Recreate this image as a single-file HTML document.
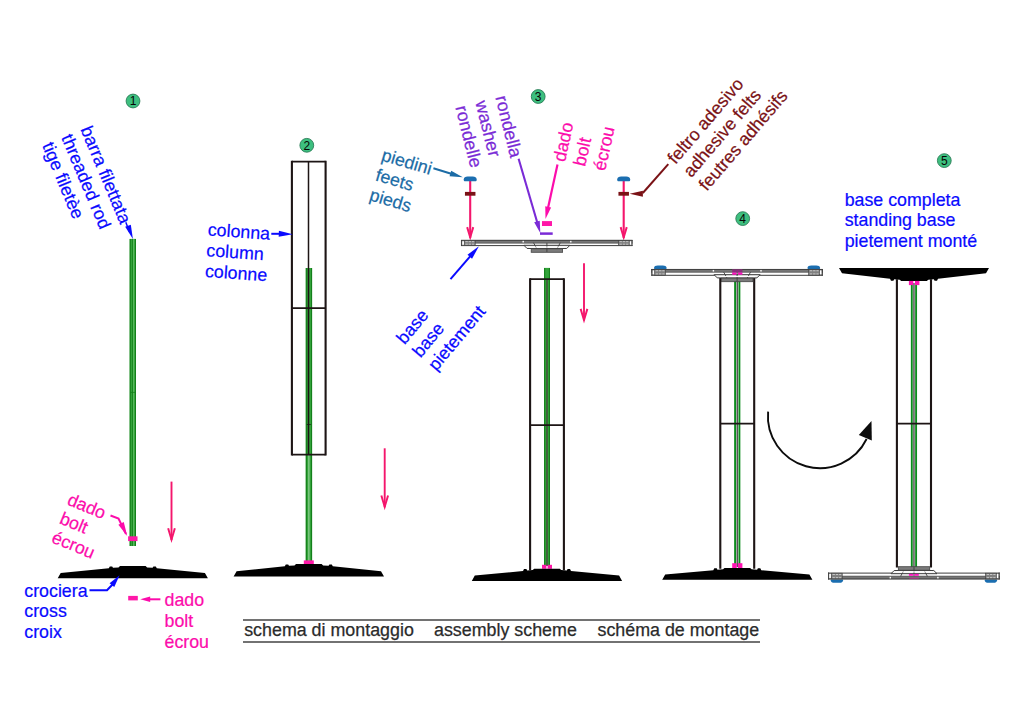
<!DOCTYPE html>
<html lang="it"><head><meta charset="utf-8"><title>schema di montaggio</title>
<style>html,body{margin:0;padding:0;background:#fff}svg{display:block}text{font-family:"Liberation Sans",Arial,sans-serif}</style>
</head><body>
<svg width="1024" height="724" viewBox="0 0 1024 724">
<rect width="1024" height="724" fill="#fff"/>
<circle cx="133" cy="101" r="6.9" fill="#3dbf7f" stroke="#2b7d58" stroke-width="0.9"/>
<text x="133" y="105.3" font-size="12" text-anchor="middle" fill="#050505">1</text>
<g transform="translate(80.3 129.3) rotate(67.3)" fill="#0a0aff" stroke="#0a0aff" stroke-width="0.22" font-size="17.8"><text x="0" y="0.0">barra filettata</text><text x="0" y="20.8">threaded rod</text><text x="0" y="41.6">tige filetèe</text></g>
<path d="M125.8 222.3L129.5 232" stroke="#0a0aff" stroke-width="1.5"/>
<path transform="translate(132.9 238.9) rotate(69.5)" d="M0 0L-14 -3L-14 3Z" fill="#0a0aff"/>
<rect x="129.65" y="238.9" width="6.3" height="307.1" fill="#33a33a"/>
<path d="M130.25 238.9V546M135.45 238.9V546" stroke="#14801b" stroke-width="1.1"/>
<path d="M132.50 238.9V546" stroke="#14801b" stroke-width="0.8"/>
<path d="M133.70 238.9V546" stroke="#62bd66" stroke-width="1"/>
<path d="M130.2 392.4h5.4" stroke="#14801b" stroke-width="0.8"/>
<rect x="128.10000000000002" y="536.3" width="9.4" height="4.8" fill="#ff18a8"/>
<path d="M171.5 481.6V540" fill="none" stroke="#f4166c" stroke-width="1.9"/>
<path d="M171.5 543L167.2 528.6L169.1 528.0L171.5 536.5L173.9 528.0L175.8 528.6Z" fill="#f4166c"/>
<path d="M57.7 578.2L60.7 572.9L108.8 568.3L109.8 566.4L112.2 566.4L113.0 567.8L118.5 567.4L120.0 566.1L145.6 566.1L147.1 567.4L152.6 567.8L153.4 566.4L155.8 566.4L156.8 568.3L204.9 572.9L207.9 578.2Z" fill="#000"/>
<g transform="translate(66.2 504.2) rotate(22.5)" fill="#fc0cab" stroke="#fc0cab" stroke-width="0.22" font-size="17.8"><text x="0" y="0.0">dado</text><text x="0" y="20.4">bolt</text><text x="0" y="40.8">écrou</text></g>
<path d="M110.5 515.5L118.5 518.5L126 534" fill="none" stroke="#fc0cab" stroke-width="2"/>
<path transform="translate(127.2 536) rotate(64)" d="M0 0L-14 -3L-14 3Z" fill="#fc0cab"/>
<g transform="translate(24.3 596.8) rotate(0)" fill="#0a0aff" stroke="#0a0aff" stroke-width="0.22" font-size="17.8"><text x="0" y="0.0">crociera</text><text x="0" y="20.6">cross</text><text x="0" y="41.2">croix</text></g>
<path d="M89.5 590.3H107L113 584" fill="none" stroke="#0a0aff" stroke-width="2"/>
<path transform="translate(119.6 575.3) rotate(-52)" d="M0 0L-12.5 -3L-12.5 3Z" fill="#0a0aff"/>
<rect x="128.2" y="595.9" width="9.6" height="4.5" fill="#ff18a8"/>
<path d="M160.4 599.3H149" stroke="#fc0cab" stroke-width="2"/>
<path transform="translate(140.2 599.3) rotate(180)" d="M0 0L-10 -2.8L-10 2.8Z" fill="#fc0cab"/>
<g transform="translate(164.5 606.2) rotate(0)" fill="#fc0cab" stroke="#fc0cab" stroke-width="0.22" font-size="17.8"><text x="0" y="0.0">dado</text><text x="0" y="20.8">bolt</text><text x="0" y="41.6">écrou</text></g>
<circle cx="306.8" cy="145.3" r="6.9" fill="#3dbf7f" stroke="#2b7d58" stroke-width="0.9"/>
<text x="306.8" y="149.60000000000002" font-size="12" text-anchor="middle" fill="#050505">2</text>
<rect x="305.75" y="268" width="6.3" height="187.0" fill="#33a33a"/>
<path d="M306.35 268V455M311.55 268V455" stroke="#14801b" stroke-width="1.1"/>
<rect x="305.75" y="455" width="6.3" height="106.0" fill="#33a33a"/>
<path d="M306.35 455V561M311.55 455V561" stroke="#14801b" stroke-width="1.1"/>
<path d="M308.9 455V561" stroke="#a5dba8" stroke-width="1"/>
<path d="M291.9 160.75V455.55M325.6 160.75V455.55" stroke="#1d1515" stroke-width="2.1" fill="none"/>
<path d="M291.9 308.2H325.6M291.9 161.6H325.6M291.9 454.7H325.6" stroke="#1d1515" stroke-width="1.7" fill="none"/>
<path d="M308.5 161.6V454.7" stroke="#1d1515" stroke-width="1.5"/>
<path d="M306.8 424.5h4" stroke="#1d1515" stroke-width="0.8"/>
<rect x="303.8" y="560.4" width="10" height="3.8" fill="#ff18a8"/>
<path d="M233.6 576.5L236.6 571.2L284.8 566.3L285.8 564.4L288.2 564.4L289.0 565.8L294.5 565.4L296.0 564.1L321.6 564.1L323.1 565.4L328.6 565.8L329.4 564.4L331.8 564.4L332.8 566.3L381.0 571.2L384.0 576.5Z" fill="#000"/>
<path d="M384.7 448.3V507.2" fill="none" stroke="#f4166c" stroke-width="1.9"/>
<path d="M384.7 510.2L380.4 495.8L382.3 495.2L384.7 503.7L387.1 495.2L389.0 495.8Z" fill="#f4166c"/>
<g transform="translate(207.5 235.5) rotate(3.9)" fill="#0a0aff" stroke="#0a0aff" stroke-width="0.22" font-size="17.8"><text x="0" y="0.0">colonna</text><text x="0" y="20.8">column</text><text x="0" y="41.6">colonne</text></g>
<path d="M271.3 233.8H280" stroke="#0a0aff" stroke-width="2"/>
<path transform="translate(292.8 234.2) rotate(2)" d="M0 0L-14 -3L-14 3Z" fill="#0a0aff"/>
<circle cx="538.2" cy="96.5" r="6.9" fill="#3dbf7f" stroke="#2b7d58" stroke-width="0.9"/>
<text x="538.2" y="100.8" font-size="12" text-anchor="middle" fill="#050505">3</text>
<g transform="translate(380.4 160.2) rotate(16.5)" fill="#1c6ca6" stroke="#1c6ca6" stroke-width="0.22" font-size="17.8"><text x="0" y="0.0">piedini</text><text x="0" y="20.8">feets</text><text x="0" y="41.6">pieds</text></g>
<path d="M433.4 168.3L452 174" stroke="#1c6ca6" stroke-width="2"/>
<path transform="translate(462.8 177.3) rotate(17)" d="M0 0L-13 -2.8L-13 2.8Z" fill="#1c6ca6"/>
<g transform="translate(495.2 97.3) rotate(76)" fill="#7a2bd6" stroke="#7a2bd6" stroke-width="0.22" font-size="17.8"><text x="0" y="0.0">rondella</text><text x="0" y="20.6">washer</text><text x="0" y="41.2">rondelle</text></g>
<g transform="translate(564.9 162.5) rotate(-77.5)" fill="#fc0cab" stroke="#fc0cab" stroke-width="0.22" font-size="17.8"><text x="0" y="0.0">dado</text><text x="0" y="20.6">bolt</text><text x="0" y="41.2">écrou</text></g>
<g transform="translate(675.6 164.9) rotate(-49.4)" fill="#7a1216" stroke="#7a1216" stroke-width="0.22" font-size="17.8"><text x="0" y="0.0">feltro adesivo</text><text x="0" y="20.6">adhesive felts</text><text x="0" y="41.2">feutres adhésifs</text></g>
<g transform="translate(404.6 345.2) rotate(-50)" fill="#0a0aff" stroke="#0a0aff" stroke-width="0.22" font-size="17.8"><text x="0" y="0.0">base</text><text x="0" y="20.6">base</text><text x="0" y="41.2">pietement</text></g>
<path d="M470.2 181V237.8" fill="none" stroke="#f4166c" stroke-width="2.1"/>
<path d="M470.2 240.8L466.2 227.4L468.1 226.8L470.2 234.3L472.3 226.8L474.2 227.4Z" fill="#f4166c"/>
<path d="M464.70 181.3Q463.70 181.3 463.70 179.42Q464.10 176.60 467.60 176.60H472.80Q476.30 176.60 476.70 179.42Q476.70 181.3 475.70 181.3Z" fill="#1b6eb0"/>
<rect x="464.95" y="191.9" width="10.5" height="3.8" fill="#7a1216"/>
<path d="M623.7 181V237.8" fill="none" stroke="#f4166c" stroke-width="2.1"/>
<path d="M623.7 240.8L619.7 227.4L621.6 226.8L623.7 234.3L625.8 226.8L627.7 227.4Z" fill="#f4166c"/>
<path d="M618.20 181.3Q617.20 181.3 617.20 179.42Q617.60 176.60 621.10 176.60H626.30Q629.80 176.60 630.20 179.42Q630.20 181.3 629.20 181.3Z" fill="#1b6eb0"/>
<rect x="618.45" y="191.9" width="10.5" height="3.8" fill="#7a1216"/>
<path d="M518.6 158.8L538 225" fill="none" stroke="#7a2bd6" stroke-width="2.1"/>
<path transform="translate(540.3 233) rotate(73.9)" d="M0 0L-12 -2.9L-12 2.9Z" fill="#7a2bd6"/>
<path d="M540 233.6H552.7" fill="none" stroke="#7a2bd6" stroke-width="2.5"/>
<rect x="542.0" y="221.1" width="10" height="4.9" fill="#ff18a8"/>
<path d="M557.5 164.5L548 208" stroke="#fc0cab" stroke-width="2.2"/>
<path transform="translate(545.5 219.1) rotate(102.4)" d="M0 0L-12.5 -3L-12.5 3Z" fill="#fc0cab"/>
<path d="M668.3 164.2L642.8 193" fill="none" stroke="#7a1216" stroke-width="2"/>
<path transform="translate(629.6 193.7) rotate(180)" d="M0 0L-13.3 -3L-13.3 3Z" fill="#7a1216"/>
<path d="M450.5 279.2L471 255.4" stroke="#0a0aff" stroke-width="2"/>
<path transform="translate(478.9 246.2) rotate(-49.3)" d="M0 0L-14 -3L-14 3Z" fill="#0a0aff"/>
<rect x="461" y="239.9" width="171.5" height="6.2" fill="#fff"/>
<rect x="461" y="239.90" width="171.5" height="3.5" fill="#767676"/>
<path d="M461 240.35H632.5" stroke="#3a3a3a" stroke-width="0.9"/>
<path d="M461 243.10H632.5" stroke="#505050" stroke-width="0.6"/>
<path d="M461 245.60H632.5" stroke="#3d3d3d" stroke-width="1"/>
<path d="M461.5 239.9V246.1M632.0 239.9V246.1" stroke="#3d3d3d" stroke-width="1.1"/>
<rect x="464.2" y="240.50" width="11" height="5.0" fill="#808080" stroke="#3d3d3d" stroke-width="0.6"/>
<path d="M465.4 241.65h8.8M465.4 244.20h8.8" stroke="#d8d8d8" stroke-width="0.8" stroke-dasharray="2.4 0.9"/>
<rect x="461.9" y="240.90" width="2.3" height="4.2" fill="#fff" stroke="#3d3d3d" stroke-width="0.5"/>
<rect x="618.3" y="240.50" width="11" height="5.0" fill="#808080" stroke="#3d3d3d" stroke-width="0.6"/>
<path d="M619.5 241.65h8.8M619.5 244.20h8.8" stroke="#d8d8d8" stroke-width="0.8" stroke-dasharray="2.4 0.9"/>
<rect x="629.3" y="240.90" width="2.3" height="4.2" fill="#fff" stroke="#3d3d3d" stroke-width="0.5"/>
<rect x="522.5" y="240.85" width="1.4" height="1.6" fill="#fff"/><rect x="570.1" y="240.85" width="1.4" height="1.6" fill="#fff"/>
<path d="M523.9 245.30L527.1 248.50H566.7L569.9 245.30Z" fill="#f4f4f4" stroke="#3d3d3d" stroke-width="1"/>
<rect x="531.2" y="248.80" width="31.4" height="3.5" fill="#7b7b7b" stroke="#444" stroke-width="0.8"/>
<path d="M533.5 242.70L536.7 248.50M560.3 242.70L557.1 248.50M546.9 242.90V251.90" stroke="#3d3d3d" stroke-width="0.9" fill="none"/>
<path d="M528.9 247.10H564.9" stroke="#fff" stroke-width="1"/>
<rect x="544.05" y="267.9" width="5.9" height="298.1" fill="#33a33a"/>
<path d="M544.65 267.9V566M549.45 267.9V566" stroke="#14801b" stroke-width="1.1"/>
<path d="M547 279V566" stroke="#4a4040" stroke-width="1.3"/>
<path d="M530.1 278.25V570.35M563.9 278.25V570.35" stroke="#1d1515" stroke-width="2.1" fill="none"/>
<path d="M530.1 425.2H563.9M530.1 279.1H563.9" stroke="#1d1515" stroke-width="1.7" fill="none"/>
<rect x="542.0" y="564.8" width="4.4" height="4" fill="#ff18a8"/>
<rect x="547.5999999999999" y="564.8" width="4.4" height="4" fill="#ff18a8"/>
<path d="M471.8 580.9L474.8 575.6L523.0 571.0L524.0 569.1L526.4 569.1L527.2 570.5L532.7 570.1L534.2 568.8L559.8 568.8L561.2 570.1L566.8 570.5L567.6 569.1L570.0 569.1L571.0 571.0L619.1 575.6L622.1 580.9Z" fill="#000"/>
<path d="M584 263.2V320.6" fill="none" stroke="#f4166c" stroke-width="1.9"/>
<path d="M584 323.6L579.7 309.2L581.6 308.6L584 317.1L586.4 308.6L588.3 309.2Z" fill="#f4166c"/>
<circle cx="742.7" cy="218.6" r="6.9" fill="#3dbf7f" stroke="#2b7d58" stroke-width="0.9"/>
<text x="742.7" y="222.9" font-size="12" text-anchor="middle" fill="#050505">4</text>
<path d="M737.25 279V567" stroke="#555" stroke-width="1.5"/>
<path d="M735.1 279V567M739.4 279V567" stroke="#0b8c1c" stroke-width="1.9"/>
<path d="M720.3 277.65V568.85M754.2 277.65V568.85" stroke="#1d1515" stroke-width="2.1" fill="none"/>
<path d="M720.3 423.6H754.2" stroke="#1d1515" stroke-width="1.7" fill="none"/>
<path d="M655.00 269.3Q654.00 269.3 654.00 267.74Q654.40 265.40 657.78 265.40H662.82Q666.20 265.40 666.60 267.74Q666.60 269.3 665.60 269.3Z" fill="#1b6eb0"/>
<path d="M808.50 269.3Q807.50 269.3 807.50 267.74Q807.90 265.40 811.28 265.40H816.32Q819.70 265.40 820.10 267.74Q820.10 269.3 819.10 269.3Z" fill="#1b6eb0"/>
<rect x="651.3" y="269" width="171.5" height="6.8" fill="#fff"/>
<rect x="651.3" y="269.00" width="171.5" height="3.5" fill="#767676"/>
<path d="M651.3 269.45H822.8" stroke="#3a3a3a" stroke-width="0.9"/>
<path d="M651.3 272.20H822.8" stroke="#505050" stroke-width="0.6"/>
<path d="M651.3 275.30H822.8" stroke="#3d3d3d" stroke-width="1"/>
<path d="M651.8 269V275.8M822.3 269V275.8" stroke="#3d3d3d" stroke-width="1.1"/>
<rect x="654.5" y="269.60" width="11" height="5.6" fill="#808080" stroke="#3d3d3d" stroke-width="0.6"/>
<path d="M655.7 270.75h8.8M655.7 273.90h8.8" stroke="#d8d8d8" stroke-width="0.8" stroke-dasharray="2.4 0.9"/>
<rect x="652.2" y="270.00" width="2.3" height="4.8" fill="#fff" stroke="#3d3d3d" stroke-width="0.5"/>
<rect x="808.6" y="269.60" width="11" height="5.6" fill="#808080" stroke="#3d3d3d" stroke-width="0.6"/>
<path d="M809.8 270.75h8.8M809.8 273.90h8.8" stroke="#d8d8d8" stroke-width="0.8" stroke-dasharray="2.4 0.9"/>
<rect x="819.6" y="270.00" width="2.3" height="4.8" fill="#fff" stroke="#3d3d3d" stroke-width="0.5"/>
<rect x="712.7" y="269.95" width="1.4" height="1.6" fill="#fff"/><rect x="760.3" y="269.95" width="1.4" height="1.6" fill="#fff"/>
<path d="M714.1 274.70L717.3 277.90H756.9L760.1 274.70Z" fill="#f4f4f4" stroke="#3d3d3d" stroke-width="1"/>
<rect x="721.4" y="278.20" width="31.4" height="3.5" fill="#7b7b7b" stroke="#444" stroke-width="0.8"/>
<path d="M723.7 272.10L726.9 277.90M750.5 272.10L747.3 277.90M737.1 272.30V281.30" stroke="#3d3d3d" stroke-width="0.9" fill="none"/>
<path d="M719.1 276.50H755.1" stroke="#fff" stroke-width="1"/>
<rect x="732.2" y="269.3" width="10.2" height="3.3" fill="#8a2f7c"/>
<rect x="732.2" y="272.6" width="4.4" height="2.1" fill="#ff14c0"/><rect x="738" y="272.6" width="4.4" height="2.1" fill="#ff14c0"/>
<rect x="732.2" y="563.2" width="4.5" height="4.8" fill="#ff14b4"/>
<rect x="737.9" y="563.2" width="4.5" height="4.8" fill="#ff14b4"/>
<path d="M662.2 579.8L665.2 574.5L713.3 570.2L714.3 568.3L716.7 568.3L717.5 569.7L723.0 569.3L724.5 568.0L750.1 568.0L751.6 569.3L757.1 569.7L757.9 568.3L760.3 568.3L761.3 570.2L809.4 574.5L812.4 579.8Z" fill="#000"/>
<path d="M768.1 411.6A52 52 0 0 0 866.6 439" fill="none" stroke="#0c0c0c" stroke-width="1.9"/>
<path d="M871.5 421L871.8 440.5L858.8 435Z" fill="#0c0c0c"/>
<circle cx="944.3" cy="160.6" r="6.9" fill="#3dbf7f" stroke="#2b7d58" stroke-width="0.9"/>
<text x="944.3" y="164.9" font-size="12" text-anchor="middle" fill="#050505">5</text>
<g transform="translate(844.7 205.8) rotate(0)" fill="#0a0aff" stroke="#0a0aff" stroke-width="0.22" font-size="17.8"><text x="0" y="0.0">base completa</text><text x="0" y="20.7">standing base</text><text x="0" y="41.4">pietement monté</text></g>
<path d="M913.95 283V572" stroke="#555" stroke-width="1.5"/>
<path d="M911.8000000000001 283V572M916.1 283V572" stroke="#0b8c1c" stroke-width="1.9"/>
<path d="M896.9 279.15V567.5500000000001M931.0 279.15V567.5500000000001" stroke="#1d1515" stroke-width="2.1" fill="none"/>
<path d="M896.9 423.6H931.0" stroke="#1d1515" stroke-width="1.7" fill="none"/>
<path d="M839.0 268.0L842.0 273.3L890.0 278.8L891.0 280.7L893.4 280.7L894.2 279.3L899.7 279.7L901.2 281.0L926.8 281.0L928.3 279.7L933.8 279.3L934.6 280.7L937.0 280.7L938.0 278.8L986.0 273.3L989.0 268.0Z" fill="#000"/>
<rect x="908.9" y="280.9" width="4.4" height="4.2" fill="#ff14b4"/><rect x="915" y="280.9" width="4.4" height="4.2" fill="#ff14b4"/>
<path d="M831.70 578.8Q830.70 578.8 830.70 580.40Q831.10 582.80 834.42 582.80H839.38Q842.70 582.80 843.10 580.40Q843.10 578.8 842.10 578.8Z" fill="#1b6eb0"/>
<path d="M985.70 578.8Q984.70 578.8 984.70 580.40Q985.10 582.80 988.42 582.80H993.38Q996.70 582.80 997.10 580.40Q997.10 578.8 996.10 578.8Z" fill="#1b6eb0"/>
<rect x="828.05" y="572.6" width="171.7" height="6.8" fill="#fff"/>
<rect x="828.05" y="575.90" width="171.7" height="3.5" fill="#767676"/>
<path d="M828.05 578.95H999.7" stroke="#3a3a3a" stroke-width="0.9"/>
<path d="M828.05 576.20H999.7" stroke="#505050" stroke-width="0.6"/>
<path d="M828.05 573.10H999.7" stroke="#3d3d3d" stroke-width="1"/>
<path d="M828.55 572.6V579.4M999.2 572.6V579.4" stroke="#3d3d3d" stroke-width="1.1"/>
<rect x="831.2" y="573.20" width="11" height="5.6" fill="#808080" stroke="#3d3d3d" stroke-width="0.6"/>
<path d="M832.5 577.65h8.8M832.5 574.50h8.8" stroke="#d8d8d8" stroke-width="0.8" stroke-dasharray="2.4 0.9"/>
<rect x="828.9" y="573.60" width="2.3" height="4.8" fill="#fff" stroke="#3d3d3d" stroke-width="0.5"/>
<rect x="985.5" y="573.20" width="11" height="5.6" fill="#808080" stroke="#3d3d3d" stroke-width="0.6"/>
<path d="M986.7 577.65h8.8M986.7 574.50h8.8" stroke="#d8d8d8" stroke-width="0.8" stroke-dasharray="2.4 0.9"/>
<rect x="996.5" y="573.60" width="2.3" height="4.8" fill="#fff" stroke="#3d3d3d" stroke-width="0.5"/>
<rect x="889.6" y="576.85" width="1.4" height="1.6" fill="#fff"/><rect x="937.2" y="576.85" width="1.4" height="1.6" fill="#fff"/>
<path d="M891.0 573.70L894.2 570.50H933.8L937.0 573.70Z" fill="#f4f4f4" stroke="#3d3d3d" stroke-width="1"/>
<rect x="898.3" y="566.70" width="31.4" height="3.5" fill="#7b7b7b" stroke="#444" stroke-width="0.8"/>
<path d="M900.6 576.30L903.8 570.50M927.4 576.30L924.2 570.50M914.0 576.10V567.10" stroke="#3d3d3d" stroke-width="0.9" fill="none"/>
<path d="M896.0 571.90H932.0" stroke="#fff" stroke-width="1"/>
<rect x="908.9" y="573.9" width="4.4" height="1.9" fill="#ff14c0"/><rect x="914.4" y="573.9" width="4.4" height="1.9" fill="#ff14c0"/>
<path d="M909.3 578.2h9.4" stroke="#d020a0" stroke-width="0.8"/>
<path d="M243 620H760M243 642H760" stroke="#444" stroke-width="1.4"/>
<text x="244.2" y="635.9" font-size="17.85" fill="#2b2b2b" stroke="#2b2b2b" stroke-width="0.25" xml:space="preserve">schema di montaggio</text>
<text x="434" y="635.9" font-size="17.85" fill="#2b2b2b" stroke="#2b2b2b" stroke-width="0.25">assembly scheme</text>
<text x="597.5" y="635.9" font-size="17.85" fill="#2b2b2b" stroke="#2b2b2b" stroke-width="0.25">schéma de montage</text>
</svg>
</body></html>
